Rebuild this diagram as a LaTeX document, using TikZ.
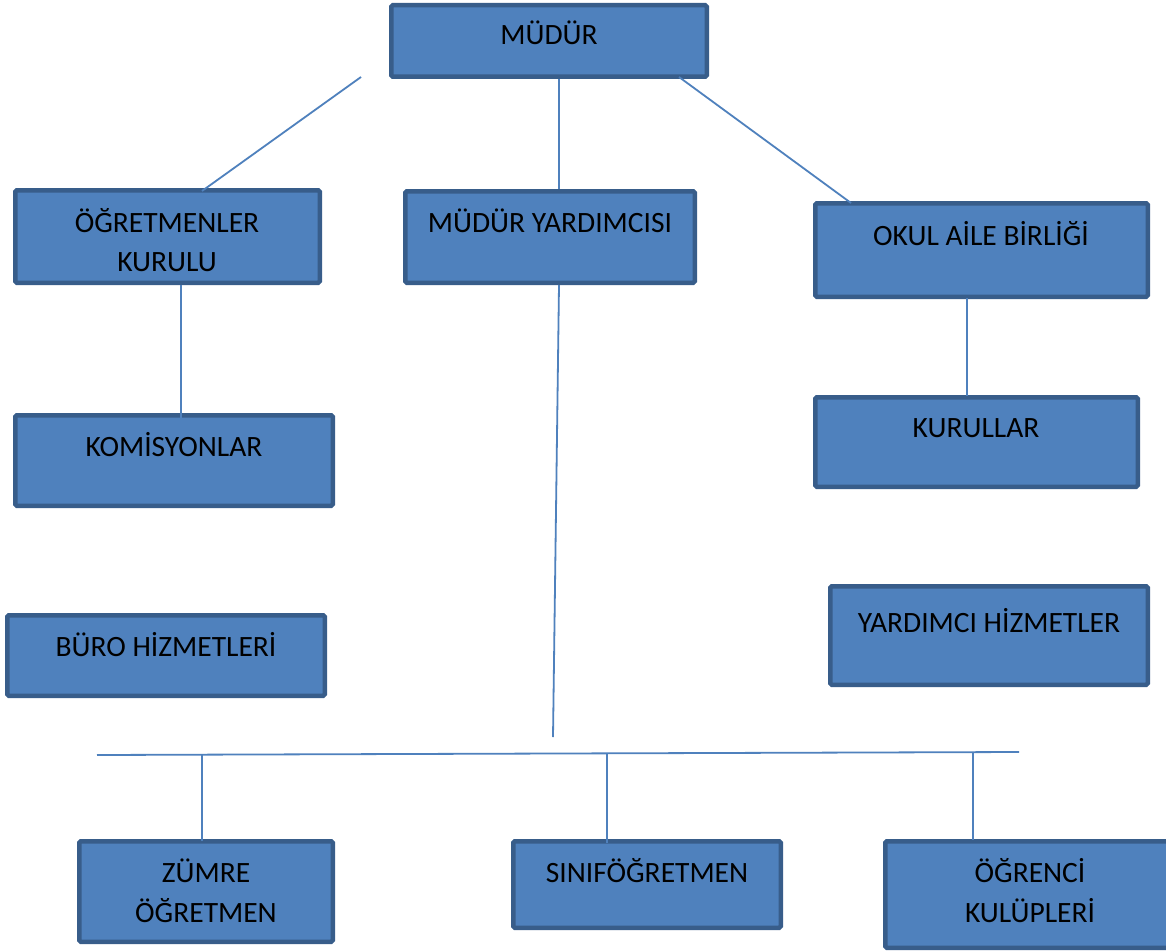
\documentclass[tikz,border=0pt]{standalone}
\usepackage{fontspec}
\setmainfont{Carlito}
\definecolor{boxfill}{HTML}{4F81BD}
\definecolor{boxline}{HTML}{385D8A}
\definecolor{conn}{HTML}{4F81BD}
\tikzset{
  orgbox/.style={draw=boxline, fill=boxfill, line width=4.5pt, rounded corners=1.5pt},
  lbl/.style={anchor=base, inner sep=0pt, font=\fontsize{29.5}{40}\selectfont, text=black},
  link/.style={draw=conn, line width=1.8pt}
}
\begin{document}
\begin{tikzpicture}[x=1pt,y=-1pt]
\clip (0,0) rectangle (1166,952);
\fill[white] (0,0) rectangle (1166,952);

% boxes (outer edges minus half border)
\path[orgbox] (391.25,5.25) rectangle (706.75,76.75) node[pos=0.5, inner sep=0pt] (mudur) {};
\path[orgbox] (15.25,190.25) rectangle (319.75,282.75) node[pos=0.5, inner sep=0pt] (ogk) {};
\path[orgbox] (405.25,191.25) rectangle (694.75,282.75) node[pos=0.5, inner sep=0pt] (myard) {};
\path[orgbox] (815.25,203.25) rectangle (1147.75,296.75) node[pos=0.5, inner sep=0pt] (okul) {};
\path[orgbox] (15.25,415.25) rectangle (332.75,505.75) node[pos=0.5, inner sep=0pt] (komis) {};
\path[orgbox] (815.25,397.25) rectangle (1137.75,486.75) node[pos=0.5, inner sep=0pt] (kurul) {};
\path[orgbox] (7.25,615.25) rectangle (324.75,695.75) node[pos=0.5, inner sep=0pt] (buro) {};
\path[orgbox] (830.25,586.25) rectangle (1147.75,684.75) node[pos=0.5, inner sep=0pt] (yhiz) {};
\path[orgbox] (79.25,841.25) rectangle (332.75,941.75) node[pos=0.5, inner sep=0pt] (zumre) {};
\path[orgbox] (513.25,841.25) rectangle (780.75,927.75) node[pos=0.5, inner sep=0pt] (sinif) {};
\path[orgbox] (885.25,841.25) rectangle (1174,947.75) node[pos=0.5, inner sep=0pt] (ogrenci) {};

% texts
\node[lbl] (tmudur) at (549,45) {MÜDÜR};
\node[lbl] (togk1) at (167,232) {ÖĞRETMENLER};
\node[lbl] (togk2) at (167,271) {KURULU};
\node[lbl] (tmyard) at (550,232) {MÜDÜR YARDIMCISI};
\node[lbl] (tokul) at (981,245) {OKUL AİLE BİRLİĞİ};
\node[lbl] (tkomis) at (174,456) {KOMİSYONLAR};
\node[lbl] (tkurul) at (976,437) {KURULLAR};
\node[lbl] (tburo) at (166,656) {BÜRO HİZMETLERİ};
\node[lbl] (tyhiz) at (989,632) {YARDIMCI HİZMETLER};
\node[lbl] (tzumre1) at (206,882) {ZÜMRE};
\node[lbl] (tzumre2) at (206,922) {ÖĞRETMEN};
\node[lbl] (tsinif) at (647,882) {SINIFÖĞRETMEN};
\node[lbl] (togr1) at (1030,882) {ÖĞRENCİ};
\node[lbl] (togr2) at (1030,922) {KULÜPLERİ};

% connector end points
\coordinate (a1) at (361,77);
\coordinate (a2) at (202,191);
\coordinate (b1) at (559,79);
\coordinate (b2) at (559,189);
\coordinate (c1) at (679,77);
\coordinate (c2) at (851,203);
\coordinate (d1) at (181,285);
\coordinate (d2) at (181,433);
\coordinate (e1) at (559,285);
\coordinate (e2) at (553,737);
\coordinate (f1) at (967,298);
\coordinate (f2) at (967,396);
\coordinate (h1) at (97,755);
\coordinate (h2) at (1019,752);
\coordinate (g1) at (202,755);
\coordinate (g2) at (202,841);
\coordinate (i1) at (607,754);
\coordinate (i2) at (607,843);
\coordinate (j1) at (973,752);
\coordinate (j2) at (973,840);

\draw[link] (a1) -- (a2);
\draw[link] (b1) -- (b2);
\draw[link] (c1) -- (c2);
\draw[link] (d1) -- (d2);
\draw[link] (e1) -- (e2);
\draw[link] (f1) -- (f2);
\draw[link] (h1) -- (h2);
\draw[link] (g1) -- (g2);
\draw[link] (i1) -- (i2);
\draw[link] (j1) -- (j2);
\end{tikzpicture}
\end{document}
